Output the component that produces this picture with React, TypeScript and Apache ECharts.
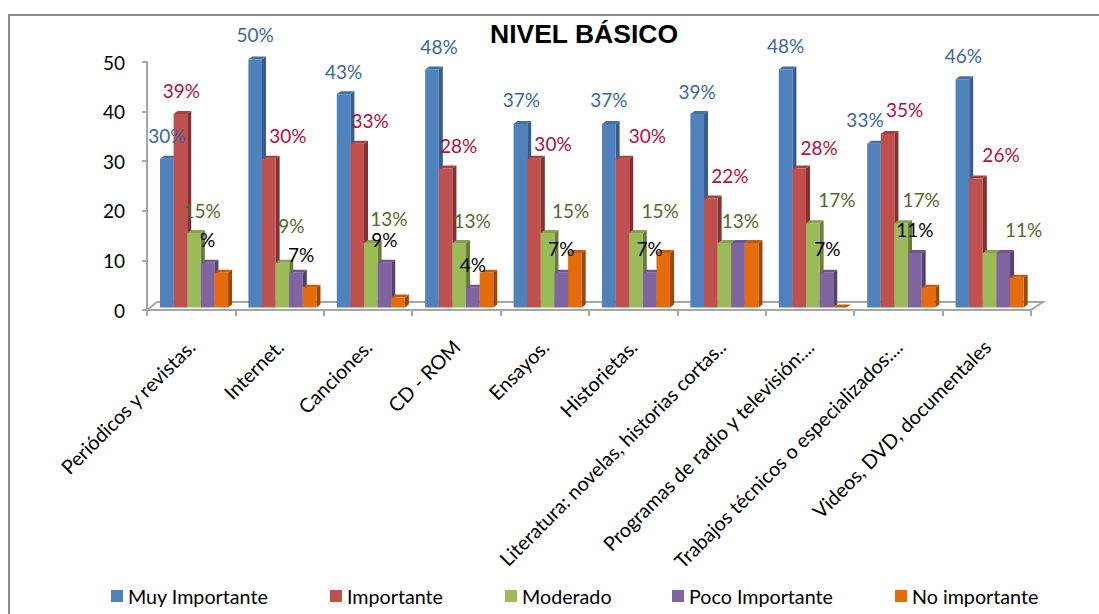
import React, { useEffect, useRef } from "react";
import * as echarts from "echarts";

const categories = [
  "Periódicos y revistas.",
  "Internet.",
  "Canciones.",
  "CD - ROM",
  "Ensayos.",
  "Historietas.",
  "Literatura: novelas, historias cortas..",
  "Programas de radio y televisión:...",
  "Trabajos técnicos o especializados:...",
  "Videos, DVD, documentales",
];
const seriesNames = ["Muy Importante", "Importante", "Moderado", "Poco Importante", "No importante"];
const muyImportante = [30, 50, 43, 48, 37, 37, 39, 48, 33, 46];
const importante = [39, 30, 33, 28, 30, 30, 22, 28, 35, 26];
const moderado = [15, 9, 13, 13, 15, 15, 13, 17, 17, 11];
const pocoImportante = [9, 7, 9, 4, 7, 7, 13, 7, 11, 11];
const noImportante = [7, 4, 2, 7, 11, 11, 13, 0, 4, 6];
const allValues = [muyImportante, importante, moderado, pocoImportante, noImportante];

const muyLabels = ["30%", "50%", "43%", "48%", "37%", "37%", "39%", "48%", "33%", "46%"];
const impLabels = ["39%", "30%", "33%", "28%", "30%", "30%", "22%", "28%", "35%", "26%"];
const modLabels = ["15%", "9%", "13%", "13%", "15%", "15%", "13%", "17%", "17%", "11%"];
const pocoLabels = ["%", "7%", "9%", "4%", "7%", "7%", "", "7%", "11%", ""];
const noLabels = ["", "", "", "", "", "", "", "", "", ""];
const allLabels = [muyLabels, impLabels, modLabels, pocoLabels, noLabels];

// Label nudges relative to the top-centre of each bar (layout only)
const labelNudges: number[][][] = [
  [[0, -23], [0, -25], [0, -23], [7, -23], [1, -24], [0, -24], [0, -23], [0, -24], [-9, -24], [1, -24]],
  [[1, -24], [19, -23], [13, -23], [13, -23], [19, -15], [25, -23], [19, -23], [20, -21], [17, -24], [25, -24]],
  [[8, -23], [9, -37], [18, -25], [13, -23], [23, -23], [24, -23], [16, -23], [24, -24], [20, -24], [34, -23]],
  [[0, -23], [5, -18], [0, -23], [0, -23], [0, -24], [0, -24], [0, 0], [1, -24], [0, -23], [0, 0]],
  [[0, 0], [0, 0], [0, 0], [0, 0], [0, 0], [0, 0], [0, 0], [0, 0], [0, 0], [0, 0]],
];

const frontColors = ["#4f81bd", "#c0504d", "#9bbb59", "#8064a2", "#e46c0a"];
const sideColors = ["#385d8a", "#7f3331", "#687d3b", "#55426c", "#984807"];
const capColors = ["#44709f", "#a34340", "#86a24c", "#6e5690", "#c55d08"];
const labelColors = ["#3c679c", "#ae1040", "#54682c", "#000000", "#000000"];
const legendLefts = [111, 330, 505, 672, 895];
const FONT = "Lato, Carlito, sans-serif";
const GRAY = "#a6a6a6";

function bar3d(params: any, api: any) {
  const s = params.seriesIndex - 1;
  const cat = api.value(0);
  const val = api.value(1);
  const band = api.size([1, 0])[0];
  const center = api.coord([cat, 0]);
  const top = api.coord([cat, val]);
  const w = band * 0.154;
  const x = center[0] - band / 2 + band * 0.147 + s * w;
  const lift = 2.5;
  const baseY = center[1] - lift;
  const topY = top[1] - lift;
  const dx = 4;
  const dy = 3;
  const z2 = (s + 1) * 5;
  const children: any[] = [
    {
      type: "polygon",
      z2,
      shape: { points: [[x + w, topY], [x + w + dx, topY - dy], [x + w + dx, baseY - dy], [x + w, baseY]] },
      style: { fill: sideColors[s] },
    },
    {
      type: "polygon",
      z2,
      shape: { points: [[x, topY], [x + dx, topY - dy], [x + w + dx, topY - dy], [x + w, topY]] },
      style: { fill: capColors[s] },
    },
    { type: "rect", z2, shape: { x, y: topY, width: w, height: baseY - topY }, style: { fill: frontColors[s] } },
  ];
  const text = allLabels[s][cat];
  if (text) {
    const nudge = labelNudges[s][cat];
    children.push({
      type: "text",
      z2: 100,
      style: {
        text,
        x: x + w / 2 + nudge[0],
        y: topY + nudge[1],
        align: "center",
        verticalAlign: "middle",
        font: `19px ${FONT}`,
        fill: labelColors[s],
      },
    });
  }
  return { type: "group", children };
}

function floor3d(params: any) {
  const c = params.coordSys;
  const bottom = c.y + c.height;
  const right = c.x + c.width;
  return {
    type: "polyline",
    z2: 0,
    shape: {
      points: [[c.x, bottom], [c.x + 10, bottom - 8], [right + 12, bottom - 8], [right, bottom]],
    },
    style: { stroke: GRAY, lineWidth: 2, fill: "none" },
  };
}

export default function App() {
  const ref = useRef<HTMLDivElement>(null);
  useEffect(() => {
    const chart = echarts.init(ref.current!, null, { renderer: "svg" });
    chart.setOption({
      animation: false,
      backgroundColor: "#ffffff",
      title: {
        text: "NIVEL BÁSICO",
        left: 584,
        top: 20,
        textAlign: "center",
        padding: 0,
        textStyle: { fontFamily: "Liberation Sans", fontWeight: "bold", fontSize: 26.5, color: "#000" },
      },
      grid: { left: 147, top: 62, width: 884, height: 248, containLabel: false },
      xAxis: {
        type: "category",
        data: categories,
        axisLine: { lineStyle: { color: GRAY, width: 2 } },
        axisTick: { show: true, length: 6, alignWithLabel: false, lineStyle: { color: GRAY, width: 2 } },
        axisLabel: { interval: 0, rotate: 45, margin: 33, fontFamily: FONT, fontSize: 19.8, color: "#000" },
      },
      yAxis: {
        type: "value",
        min: 0,
        max: 50,
        interval: 10,
        splitLine: { show: false },
        axisLine: { show: true, lineStyle: { color: GRAY, width: 2 } },
        axisTick: { show: true, length: 5, lineStyle: { color: GRAY, width: 2 } },
        axisLabel: { margin: 22, fontFamily: FONT, fontSize: 19, color: "#000" },
      },
      legend: seriesNames.map((name, i) => ({
        data: [name],
        left: legendLefts[i],
        top: 586,
        padding: 0,
        itemWidth: 12,
        itemHeight: 12,
        itemGap: 0,
        icon: "rect",
        selectedMode: false,
        textStyle: { fontFamily: FONT, fontSize: 19.7, color: "#000", padding: [0, 0, 0, 0] },
      })),
      graphic: [
        {
          type: "polyline",
          silent: true,
          shape: { points: [[9, 614], [9, 15], [1099, 15]] },
          style: { stroke: "#8c8c8c", lineWidth: 2, fill: "none" },
        },
      ],
      series: [
        {
          type: "custom",
          name: "floor",
          silent: true,
          clip: false,
          renderItem: floor3d,
          data: [[0, 0]],
          encode: { x: 0, y: 1 },
        },
        ...seriesNames.map((name, s) => ({
          type: "custom",
          name,
          clip: false,
          silent: true,
          itemStyle: { color: frontColors[s] },
          renderItem: bar3d,
          data: allValues[s].map((v, i) => [i, v]),
          encode: { x: 0, y: 1 },
        })),
      ],
    });
    return () => chart.dispose();
  }, []);
  return (
    <div ref={ref} style={{ position: "absolute", left: 0, top: 0, width: 1099, height: 614 }} />
  );
}
